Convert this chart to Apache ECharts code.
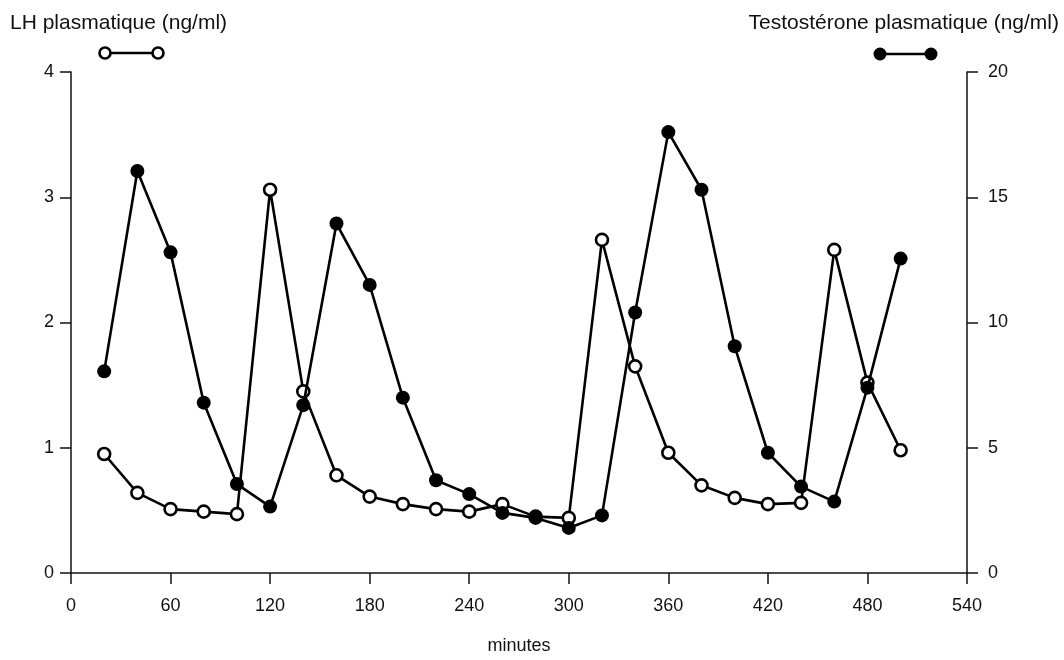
<!DOCTYPE html>
<html><head><meta charset="utf-8">
<script src="https://cdn.jsdelivr.net/npm/echarts@6/dist/echarts.min.js"></script>
<style>html,body{margin:0;padding:0;background:#fff}#c{width:1064px;height:660px}</style>
</head><body><div id="c"></div>
<script>
const minutes = [20,40,60,80,100,120,140,160,180,200,220,240,260,280,300,320,340,360,380,400,420,440,460,480,500];
const lhValues = [0.95,0.64,0.51,0.49,0.47,3.06,1.45,0.78,0.61,0.55,0.51,0.49,0.55,0.45,0.44,2.66,1.65,0.96,0.70,0.60,0.55,0.56,2.58,1.52,0.98];
const testoValues = [8.05,16.05,12.8,6.8,3.55,2.65,6.7,13.95,11.5,7.0,3.7,3.15,2.4,2.2,1.8,2.3,10.4,17.6,15.3,9.05,4.8,3.45,2.85,7.4,12.55];
const xTicks = [0,60,120,180,240,300,360,420,480,540];
const lhTicks = [0,1,2,3,4];
const testoTicks = [0,5,10,15,20];

const FONT = 'Liberation Sans, Arial, sans-serif';
const chart = echarts.init(document.getElementById('c'), null, {renderer:'canvas'});
const lineW = 2.6;
chart.setOption({
  animation:false,
  backgroundColor:'#fff',
  title:[
    {text:'LH plasmatique (ng/ml)', left:5, top:8, textStyle:{fontFamily:FONT,fontSize:21,fontWeight:'normal',color:'#111'}},
    {text:'Testostérone plasmatique (ng/ml)', right:0, top:8, textStyle:{fontFamily:FONT,fontSize:21,fontWeight:'normal',color:'#111'}}
  ],
  grid:{left:71,right:97,top:72,bottom:76,containLabel:false},
  xAxis:{type:'value',min:xTicks[0],max:xTicks[xTicks.length-1],interval:60,
    name:'minutes',nameLocation:'middle',nameGap:64,
    nameTextStyle:{fontFamily:FONT,fontSize:18,color:'#111'},
    axisLine:{show:true,lineStyle:{color:'#111',width:1.5}},
    axisTick:{show:true,inside:false,length:11,lineStyle:{color:'#111',width:1.5}},
    axisLabel:{fontFamily:FONT,fontSize:18,color:'#111',margin:24},
    splitLine:{show:false}},
  yAxis:[
    {type:'value',position:'left',min:lhTicks[0],max:lhTicks[lhTicks.length-1],interval:1,
     axisLine:{show:true,lineStyle:{color:'#111',width:1.5}},
     axisTick:{show:true,length:11,lineStyle:{color:'#111',width:1.5}},
     axisLabel:{fontFamily:FONT,fontSize:18,color:'#111',margin:17,padding:[0,0,4,0]},
     splitLine:{show:false}},
    {type:'value',position:'right',min:testoTicks[0],max:testoTicks[testoTicks.length-1],interval:5,
     axisLine:{show:true,lineStyle:{color:'#111',width:1.5}},
     axisTick:{show:true,length:11,lineStyle:{color:'#111',width:1.5}},
     axisLabel:{fontFamily:FONT,fontSize:18,color:'#111',margin:21,padding:[0,0,4,0]},
     splitLine:{show:false}}
  ],
  series:[
    {name:'LH',type:'line',yAxisIndex:0,data:minutes.map((m,i)=>[m,lhValues[i]]),
     symbol:'circle',symbolSize:12,z:2,
     lineStyle:{color:'#000',width:lineW},
     itemStyle:{color:'#fff',borderColor:'#000',borderWidth:2.6}},
    {name:'Testostérone',type:'line',yAxisIndex:1,data:minutes.map((m,i)=>[m,testoValues[i]]),
     symbol:'circle',symbolSize:14,z:3,
     lineStyle:{color:'#000',width:lineW},
     itemStyle:{color:'#000',borderColor:'#000',borderWidth:0}}
  ],
  graphic:[
    {type:'line',shape:{x1:105,y1:53,x2:158,y2:53},style:{stroke:'#000',lineWidth:lineW},z:10},
    {type:'circle',shape:{cx:105,cy:53,r:5.5},style:{fill:'#fff',stroke:'#000',lineWidth:2.6},z:11},
    {type:'circle',shape:{cx:158,cy:53,r:5.5},style:{fill:'#fff',stroke:'#000',lineWidth:2.6},z:11},
    {type:'line',shape:{x1:880,y1:54,x2:931,y2:54},style:{stroke:'#000',lineWidth:lineW},z:10},
    {type:'circle',shape:{cx:880,cy:54,r:6.5},style:{fill:'#000'},z:11},
    {type:'circle',shape:{cx:931,cy:54,r:6.5},style:{fill:'#000'},z:11}
  ]
});
</script></body></html>
